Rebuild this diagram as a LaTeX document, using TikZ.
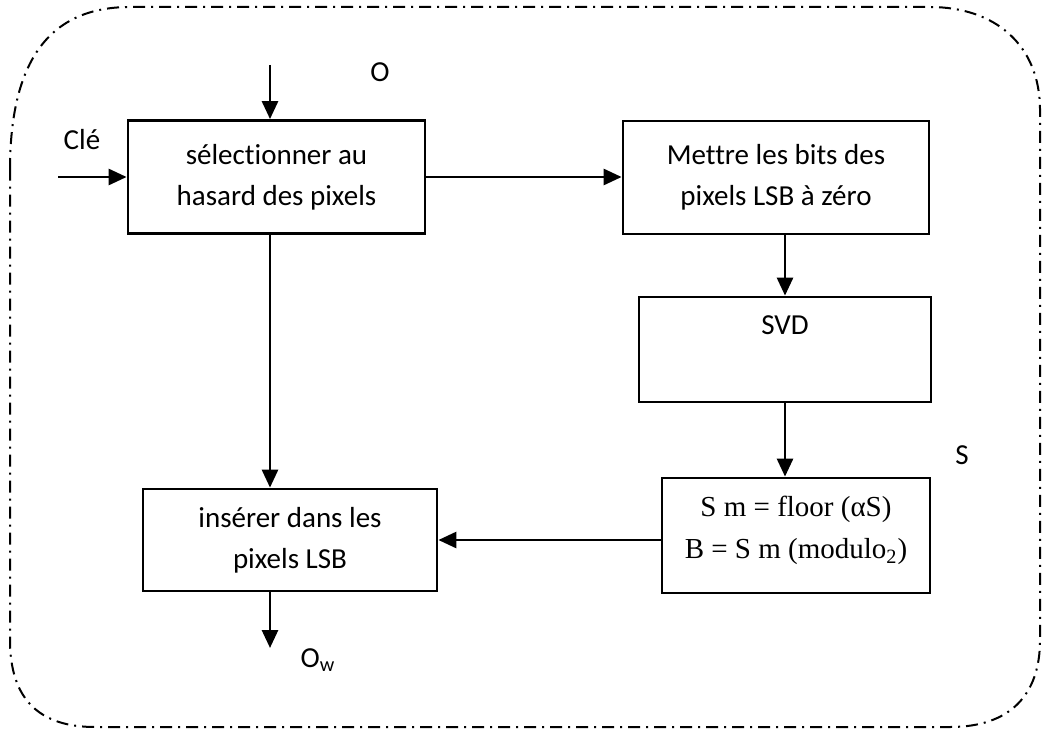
\documentclass[tikz,border=0pt]{standalone}
\usepackage{fontspec}
\setmainfont{Carlito}[Ligatures=NoCommon]
\newfontfamily\tnr{Liberation Serif}
\usetikzlibrary{arrows.meta,positioning}

\tikzset{
    box/.style={draw, line width=1.4pt, rectangle, align=center, inner sep=0pt,
        font=\fontsize{14.5}{20.5}\selectfont},
    flow/.style={-{Triangle[length=9pt,width=8pt]}, line width=1.4pt},
    lbl/.style={font=\fontsize{14.5}{17}\selectfont, inner sep=0pt},
}

\begin{document}
\begin{tikzpicture}[x=0.5pt, y=-0.5pt]
    \useasboundingbox (0,0) rectangle (1043,733);

    % outer frame
    \draw[line width=1pt, dash pattern=on 6pt off 3pt on 1pt off 3pt]
        (10,170) .. controls (10,60) and (50,7) .. (130,7) -- (930,7)
        .. controls (995,7) and (1040,45) .. (1040,110) -- (1040,640)
        .. controls (1040,695) and (1010,727) .. (950,727) -- (95,727)
        .. controls (40,727) and (10,700) .. (10,640) -- cycle;

    % blocks
    \node[box, minimum width=148.5pt, minimum height=56.5pt] (sel) at (276.5,177)
        {sélectionner au\\hasard des pixels};
    \node[box, minimum width=153pt, minimum height=56.5pt] (mettre) at (776,177.5)
        {Mettre les bits des\\pixels LSB à zéro};
    \node[box, minimum width=146pt, minimum height=52.5pt,
        label={[lbl, anchor=north, yshift=-10pt]north:SVD}] (svd) at (785,349.5) {};
    \node[box, minimum width=134pt, minimum height=57.5pt,
        font=\tnr\fontsize{14.5}{21}\selectfont] (calc) at (796,535.5)
        {S m = floor (αS)\\B = S m (modulo\textsubscript{2})\\[-13pt]};
    \node[box, minimum width=147pt, minimum height=51pt] (ins) at (290,540)
        {insérer dans les\\pixels LSB};

    % free ends
    \coordinate (oin) at (270,65);
    \coordinate (clein) at (58,177);
    \coordinate (outw) at (270,648);

    % labels
    \node[lbl] (olbl) at (380,72) {O};
    \node[lbl] (clelbl) at (82,140) {Clé};
    \node[lbl] (slbl) at (962,455) {S};
    \node[lbl] (owlbl) at (318,660) {O\textsubscript{w}};

    % connectors
    \draw[flow] (oin) -- (oin |- sel.north);
    \draw[flow] (clein) -- (clein -| sel.west);
    \draw[flow] (sel.east) -- (sel.east -| mettre.west);
    \draw[flow] (oin |- sel.south) -- (oin |- ins.north);
    \draw[flow] (svd.north |- mettre.south) -- (svd.north);
    \draw[flow] (svd.south) -- (svd.south |- calc.north);
    \draw[flow] (calc.west |- ins.east) -- (ins.east);
    \draw[flow] (outw |- ins.south) -- (outw);
\end{tikzpicture}
\end{document}
